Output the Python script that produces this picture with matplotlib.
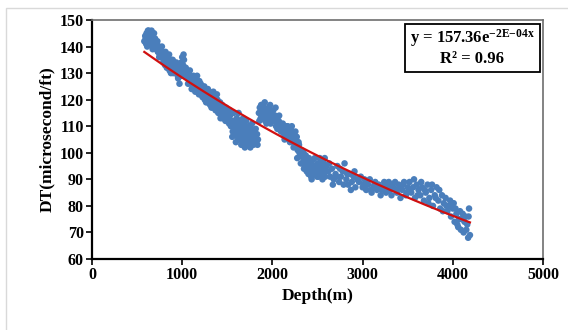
import numpy as np
import matplotlib
matplotlib.use("Agg")
import matplotlib.pyplot as plt
from matplotlib.patches import Rectangle

# ---- data (Depth in m, DT in microsecond/ft) ----
depth_a = [580, 590, 600, 605, 615, 620, 630, 635, 645, 650, 660, 665, 675, 680, 690, 700, 710, 720, 730, 740, 750, 760,
           595, 612, 628, 642, 657, 672, 688, 705, 725, 745]
dt_a = [142, 144, 141, 145, 143, 146, 144, 142, 145, 143, 146, 141, 144, 140, 142, 143, 139, 141, 138, 140, 137, 139,
        143, 140, 146, 141, 144, 139, 145, 140, 142, 136]

depth_b = [770, 780, 790, 800, 810, 820, 830, 840, 850, 860, 870, 880, 890, 900, 910, 920, 930, 940, 950, 960, 970, 980, 990, 1000, 1010, 1020, 1030, 1040, 1050,
           775, 795, 815, 835, 855, 875, 895, 915, 935, 955, 975, 995, 1015, 1035]
dt_b = [136, 138, 134, 137, 133, 135, 132, 136, 134, 131, 133, 135, 132, 130, 134, 133, 131, 132, 129, 133, 126, 131, 134, 136, 133, 135, 130, 132, 129,
        140, 135, 138, 133, 137, 130, 135, 131, 134, 128, 132, 129, 137, 131]

depth_c = [1060, 1070, 1080, 1090, 1100, 1110, 1120, 1130, 1140, 1150, 1160, 1170, 1180, 1190, 1200, 1210, 1220, 1230, 1240, 1250, 1260, 1270, 1280, 1290, 1300, 1310, 1320, 1330, 1340, 1350, 1360, 1370, 1380, 1390, 1400, 1410, 1420, 1430, 1440, 1450, 1460, 1470, 1480, 1490, 1500,
           1065, 1085, 1105, 1125, 1145, 1165, 1185, 1205, 1225, 1245, 1265, 1285, 1305, 1325, 1345, 1365, 1385, 1405, 1425, 1445, 1465, 1485]
dt_c = [130, 128, 127, 129, 126, 128, 125, 127, 128, 124, 126, 123, 125, 127, 124, 122, 125, 121, 123, 120, 124, 122, 119, 121, 123, 118, 120, 122, 117, 119, 121, 116, 118, 120, 115, 117, 119, 114, 116, 113, 117, 115, 112, 114, 116,
        126, 131, 124, 129, 123, 129, 122, 126, 121, 125, 119, 124, 120, 117, 123, 118, 122, 119, 113, 118, 114, 117]

depth_d = [1510, 1520, 1530, 1540, 1550, 1560, 1570, 1580, 1590, 1600, 1605, 1615, 1620, 1630, 1640, 1645, 1650, 1660, 1665, 1670, 1680, 1685, 1690, 1700, 1705, 1710, 1720, 1725, 1730, 1740, 1745, 1750, 1760, 1765, 1770, 1780, 1790, 1800, 1810, 1820, 1830, 1840,
           1525, 1555, 1575, 1595, 1625, 1655, 1675, 1695, 1715, 1735, 1755, 1775, 1795, 1815, 1835]
dt_d = [113, 111, 114, 110, 112, 108, 115, 109, 111, 107, 113, 106, 110, 108, 112, 105, 109, 107, 111, 104, 108, 106, 110, 103, 107, 112, 105, 109, 103, 108, 106, 110, 104, 107, 109, 105, 103, 108, 106, 104, 107, 105,
        116, 106, 112, 104, 115, 103, 113, 102, 106, 110, 102, 111, 106, 109, 103]

depth_e = [1850, 1860, 1870, 1880, 1890, 1900, 1910, 1920, 1930, 1940, 1950, 1960, 1970, 1980, 1990, 2000, 2010, 2020, 2030, 2040, 2050, 2060, 2070, 2080, 2090, 2100,
           1855, 1875, 1895, 1915, 1935, 1955, 1975, 1995, 2015, 2035, 2055, 2075, 2095]
dt_e = [115, 117, 113, 116, 118, 114, 117, 112, 116, 115, 113, 117, 114, 111, 115, 113, 116, 112, 114, 110, 113, 111, 112, 109, 111, 110,
        112, 118, 115, 119, 111, 116, 118, 112, 114, 117, 109, 114, 108]

depth_f = [2110, 2120, 2130, 2140, 2150, 2160, 2170, 2180, 2190, 2200, 2210, 2220, 2230, 2240, 2250, 2260, 2270, 2280, 2290, 2300,
           2115, 2135, 2155, 2175, 2195, 2215, 2235, 2255, 2275, 2295]
dt_f = [108, 110, 107, 109, 106, 108, 110, 105, 107, 109, 106, 108, 104, 107, 105, 103, 106, 101, 104, 100,
        111, 105, 110, 107, 104, 110, 102, 108, 98, 103]

depth_g = [2310, 2320, 2330, 2340, 2350, 2360, 2370, 2380, 2390, 2400, 2410, 2420, 2430, 2440, 2450, 2460, 2470, 2480, 2490, 2500, 2510, 2520, 2530, 2540, 2550, 2560, 2570, 2580, 2590, 2600,
           2315, 2345, 2375, 2405, 2435, 2465, 2495, 2525, 2555, 2585]
dt_g = [99, 101, 96, 98, 94, 97, 99, 93, 95, 92, 96, 94, 91, 97, 93, 95, 98, 92, 94, 96, 91, 93, 95, 97, 92, 94, 96, 98, 93, 95,
        96, 100, 95, 98, 90, 93, 91, 98, 90, 91]

depth_h = [2620, 2640, 2660, 2680, 2700, 2720, 2740, 2760, 2780, 2800, 2820, 2840, 2860, 2880, 2900, 2920, 2940,
           2630, 2670, 2710, 2750, 2790, 2830, 2870, 2910]
dt_h = [93, 91, 94, 90, 92, 95, 89, 91, 93, 96, 90, 88, 92, 89, 91, 87, 90,
        96, 88, 91, 94, 88, 92, 86, 93]

depth_i = [2960, 2980, 3000, 3020, 3040, 3060, 3080, 3100, 3120, 3140, 3160, 3180, 3200, 3220, 3240, 3260, 3280, 3300, 3320, 3340, 3360, 3380, 3400, 3420, 3440, 3460, 3480, 3500,
           3010, 3050, 3090, 3130, 3170, 3210, 3250, 3290, 3330, 3370, 3410, 3450, 3490]
dt_i = [89, 91, 87, 90, 86, 88, 90, 85, 87, 89, 86, 88, 84, 87, 89, 85, 88, 86, 84, 87, 89, 85, 88, 83, 86, 89, 84, 87,
        88, 89, 86, 88, 87, 86, 87, 89, 88, 86, 87, 88, 85]

depth_j = [3520, 3540, 3560, 3580, 3600, 3620, 3640, 3660, 3680, 3700, 3720, 3740, 3760, 3780, 3800, 3820, 3840, 3860, 3880, 3900,
           3530, 3570, 3610, 3650, 3690, 3730, 3770, 3810, 3850, 3890]
dt_j = [89, 85, 87, 83, 88, 86, 84, 87, 82, 85, 88, 83, 86, 80, 84, 87, 82, 79, 84, 81,
        86, 90, 84, 89, 86, 81, 88, 83, 86, 78]

depth_k = [3920, 3940, 3960, 3980, 4000, 4020, 4040, 4060, 4080, 4100, 4120, 4140, 4160, 4180, 4190, 4010, 4050, 4090, 4130, 4170,
           3930, 3970, 4030, 4070, 4110, 4150, 4175]
dt_k = [83, 78, 80, 76, 79, 74, 77, 72, 78, 75, 70, 76, 73, 79, 69, 81, 73, 71, 74, 68,
        80, 82, 79, 75, 77, 71, 76]

eq_text = "y = 157.36e"
eq_exp = "-2E-04x"
r2_text = "R² = 0.96"
x_ticks = [0, 1000, 2000, 3000, 4000, 5000]
y_ticks = [60, 70, 80, 90, 100, 110, 120, 130, 140, 150]

depth = np.array(depth_a + depth_b + depth_c + depth_d + depth_e + depth_f + depth_g + depth_h + depth_i + depth_j + depth_k, float)
dt = np.array(dt_a + dt_b + dt_c + dt_d + dt_e + dt_f + dt_g + dt_h + dt_i + dt_j + dt_k, float)

# exponential trendline fitted to the data
b, ln_a = np.polyfit(depth, np.log(dt), 1)
xf = np.linspace(depth.min(), depth.max(), 200)
yf = np.exp(ln_a) * np.exp(b * xf)

plt.rcParams['font.family'] = ['Liberation Serif', 'DejaVu Serif']
plt.rcParams['font.weight'] = 'bold'
plt.rcParams['mathtext.fontset'] = 'custom'
plt.rcParams['mathtext.rm'] = 'Liberation Serif:bold'
plt.rcParams['mathtext.it'] = 'Liberation Serif:bold'
plt.rcParams['mathtext.bf'] = 'Liberation Serif:bold'

fig = plt.figure(figsize=(5.68, 3.30), dpi=100)
# light outer frame of the picture
fig.patches.append(Rectangle((6 / 568, -0.1), 1.2, 1 - 8 / 330 + 0.1, transform=fig.transFigure,
                             fill=False, edgecolor='#d9d9d9', lw=1.0))

ax = fig.add_axes([92 / 568, 1 - 259 / 330, (543 - 92) / 568, (259 - 20) / 330])
ax.scatter(depth, dt, s=22, color='#4a7ebb', edgecolors='none', zorder=2)
ax.plot(xf, yf, color='#d01010', lw=1.6, zorder=3)

ax.set_xlim(0, 5000)
ax.set_ylim(60, 150)
ax.set_xticks(x_ticks)
ax.set_yticks(y_ticks)
ax.tick_params(axis='both', direction='out', length=4, width=1.2, labelsize=11.5, pad=2)
for lab in ax.get_xticklabels() + ax.get_yticklabels():
    lab.set_fontweight('bold')

for s in ['left', 'bottom']:
    ax.spines[s].set_linewidth(1.6)
    ax.spines[s].set_color('black')
for s in ['top', 'right']:
    ax.spines[s].set_linewidth(1.2)
    ax.spines[s].set_color('#6e6e6e')

ax.set_xlabel('Depth(m)', fontsize=12.5, fontweight='bold', labelpad=3)
ax.set_ylabel('DT(microsecond/ft)', fontsize=12.5, fontweight='bold', labelpad=3)

# equation box
x0 = (405 - 92) / 451
x1 = (540 - 92) / 451
y0 = 1 - (72 - 20) / 239
y1 = 1 - (24 - 20) / 239
ax.add_patch(Rectangle((x0, y0), x1 - x0, y1 - y0, transform=ax.transAxes, fill=True,
                       facecolor='white', edgecolor='black', lw=1.3, zorder=5, clip_on=False))
xc = (x0 + x1) / 2
ax.text(xc, 1 - (38 - 20) / 239, eq_text + r'$^{\mathrm{' + eq_exp.replace('-', '{-}') + '}}$',
        transform=ax.transAxes, ha='center', va='center', fontsize=12, fontweight='bold', zorder=6)
ax.text(xc, 1 - (59 - 20) / 239, r2_text, transform=ax.transAxes, ha='center', va='center',
        fontsize=12, fontweight='bold', zorder=6)

fig.savefig('out.png', dpi=100)
